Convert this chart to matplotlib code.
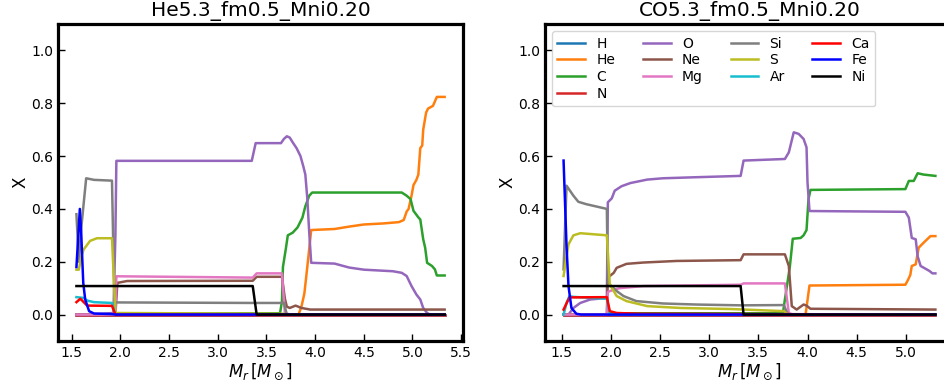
import matplotlib
matplotlib.use('Agg')
import matplotlib.pyplot as plt
import numpy as np

species = ['H', 'He', 'C', 'N', 'O', 'Ne', 'Mg', 'Si', 'S', 'Ar', 'Ca', 'Fe', 'Ni']
colors = ['C0', 'C1', 'C2', 'C3', 'C4', 'C5', 'C6', 'C7', 'C8', 'C9', 'red', 'blue', 'black']
titles = ['He5.3_fm0.5_Mni0.20', 'CO5.3_fm0.5_Mni0.20']

# He star model: (M_r, X) pairs per species
hs_H = [(1.55, 0.0), (5.33, 0.0)]
hs_He = [(1.55, 0.0), (3.83, 0.0), (3.86, 0.03), (3.89, 0.08), (3.92, 0.18), (3.96, 0.32),
         (4.2, 0.324), (4.35, 0.333), (4.5, 0.341), (4.7, 0.345), (4.86, 0.35), (4.91, 0.358),
         (4.94, 0.39), (4.96, 0.40), (4.99, 0.45), (5.01, 0.49), (5.04, 0.51), (5.06, 0.53),
         (5.08, 0.63), (5.10, 0.64), (5.11, 0.70), (5.14, 0.765), (5.16, 0.78), (5.21, 0.79),
         (5.25, 0.824), (5.33, 0.824)]
hs_C = [(1.55, 0.0), (1.95, 0.0), (1.97, 0.003), (3.64, 0.005), (3.66, 0.05), (3.67, 0.18),
        (3.70, 0.25), (3.72, 0.30), (3.77, 0.31), (3.82, 0.33), (3.87, 0.367), (3.90, 0.41),
        (3.94, 0.45), (3.97, 0.462), (4.89, 0.462), (4.94, 0.45), (4.98, 0.437), (5.01, 0.393),
        (5.06, 0.368), (5.08, 0.36), (5.11, 0.285), (5.13, 0.253), (5.15, 0.196), (5.20, 0.184),
        (5.23, 0.171), (5.25, 0.148), (5.33, 0.148)]
hs_N = [(1.55, 0.0), (5.33, 0.0)]
hs_O = [(1.55, 0.0), (1.75, 0.002), (1.93, 0.006), (1.95, 0.3), (1.96, 0.582), (3.35, 0.582),
        (3.39, 0.649), (3.65, 0.649), (3.68, 0.665), (3.71, 0.675), (3.74, 0.67), (3.77, 0.652),
        (3.81, 0.63), (3.85, 0.60), (3.88, 0.56), (3.90, 0.53), (3.92, 0.44), (3.94, 0.31),
        (3.96, 0.196), (4.2, 0.193), (4.35, 0.178), (4.5, 0.17), (4.8, 0.164), (4.89, 0.158),
        (4.94, 0.146), (4.99, 0.108), (5.04, 0.076), (5.08, 0.057), (5.11, 0.025), (5.15, 0.006),
        (5.18, 0.0), (5.33, 0.0)]
hs_Ne = [(1.55, 0.0), (1.95, 0.0), (1.97, 0.12), (2.07, 0.127), (3.36, 0.128), (3.40, 0.143),
         (3.66, 0.143), (3.69, 0.06), (3.71, 0.03), (3.74, 0.025), (3.80, 0.034), (3.86, 0.025),
         (3.95, 0.019), (5.33, 0.019)]
hs_Mg = [(1.55, 0.0), (1.95, 0.0), (1.96, 0.145), (3.36, 0.14), (3.40, 0.156), (3.66, 0.156),
         (3.69, 0.005), (3.75, 0.0), (5.33, 0.0)]
hs_Si = [(1.55, 0.38), (1.575, 0.2), (1.60, 0.33), (1.65, 0.516), (1.73, 0.51), (1.915, 0.507),
         (1.94, 0.046), (3.36, 0.044), (3.68, 0.044), (3.71, 0.0), (5.33, 0.0)]
hs_S = [(1.55, 0.17), (1.575, 0.17), (1.60, 0.22), (1.625, 0.247), (1.69, 0.279), (1.76, 0.289),
        (1.915, 0.289), (1.95, 0.006), (3.68, 0.003), (3.71, 0.0), (5.33, 0.0)]
hs_Ar = [(1.55, 0.066), (1.625, 0.063), (1.66, 0.053), (1.73, 0.047), (1.915, 0.044),
         (1.95, 0.0), (5.33, 0.0)]
hs_Ca = [(1.55, 0.047), (1.59, 0.06), (1.625, 0.047), (1.66, 0.034), (1.915, 0.033),
         (1.95, 0.0), (5.33, 0.0)]
hs_Fe = [(1.55, 0.18), (1.585, 0.40), (1.60, 0.30), (1.62, 0.12), (1.64, 0.057), (1.68, 0.013),
         (1.73, 0.004), (1.9, 0.002), (1.96, 0.0), (5.33, 0.0)]
hs_Ni = [(1.55, 0.108), (3.36, 0.108), (3.40, 0.0), (5.33, 0.0)]

# C/O star model
co_H = [(1.52, 0.0), (5.30, 0.0)]
co_He = [(1.52, 0.0), (3.98, 0.0), (4.02, 0.11), (4.995, 0.113), (5.02, 0.13), (5.045, 0.15),
         (5.06, 0.184), (5.10, 0.19), (5.13, 0.253), (5.18, 0.272), (5.25, 0.297), (5.30, 0.297)]
co_C = [(1.52, 0.0), (1.97, 0.0), (2.0, 0.005), (3.75, 0.005), (3.77, 0.057), (3.82, 0.18),
        (3.85, 0.287), (3.93, 0.29), (3.96, 0.30), (3.99, 0.32), (4.01, 0.437), (4.03, 0.472),
        (4.995, 0.475), (5.03, 0.506), (5.08, 0.506), (5.12, 0.535), (5.18, 0.53), (5.30, 0.525)]
co_N = [(1.52, 0.0), (5.30, 0.0)]
co_O = [(1.52, 0.0), (1.57, 0.0), (1.62, 0.025), (1.69, 0.044), (1.79, 0.057), (1.96, 0.063),
        (1.97, 0.425), (2.01, 0.44), (2.04, 0.469), (2.11, 0.486), (2.20, 0.498), (2.37, 0.511),
        (2.53, 0.516), (2.87, 0.52), (3.32, 0.525), (3.35, 0.583), (3.77, 0.589), (3.81, 0.614),
        (3.86, 0.69), (3.91, 0.684), (3.96, 0.665), (3.99, 0.633), (4.0, 0.5), (4.02, 0.392),
        (4.995, 0.389), (5.03, 0.367), (5.06, 0.29), (5.10, 0.285), (5.12, 0.22), (5.15, 0.184),
        (5.24, 0.165), (5.27, 0.156), (5.30, 0.156)]
co_Ne = [(1.52, 0.0), (1.96, 0.0), (1.97, 0.139), (1.99, 0.146), (2.03, 0.158), (2.06, 0.177),
         (2.16, 0.192), (2.33, 0.197), (2.67, 0.203), (3.32, 0.206), (3.35, 0.228), (3.77, 0.228),
         (3.81, 0.184), (3.84, 0.032), (3.89, 0.019), (3.96, 0.038), (3.99, 0.034), (4.03, 0.022),
         (5.30, 0.019)]
co_Mg = [(1.52, 0.0), (1.96, 0.0), (1.97, 0.085), (1.99, 0.089), (2.09, 0.10), (2.33, 0.108),
         (3.32, 0.113), (3.35, 0.118), (3.77, 0.118), (3.81, 0.006), (3.85, 0.0), (5.30, 0.0)]
co_Si = [(1.52, 0.171), (1.55, 0.488), (1.62, 0.45), (1.67, 0.427), (1.75, 0.418), (1.96, 0.40),
         (1.97, 0.12), (2.06, 0.089), (2.13, 0.07), (2.26, 0.051), (2.53, 0.042), (2.87, 0.038),
         (3.32, 0.035), (3.76, 0.036), (3.80, 0.0), (5.30, 0.0)]
co_S = [(1.52, 0.146), (1.57, 0.266), (1.62, 0.30), (1.69, 0.308), (1.96, 0.30), (1.99, 0.114),
        (2.06, 0.07), (2.16, 0.051), (2.37, 0.032), (2.71, 0.025), (3.22, 0.021), (3.76, 0.013),
        (3.80, 0.0), (5.30, 0.0)]
co_Ar = [(1.52, 0.0), (1.55, 0.044), (1.58, 0.07), (1.62, 0.067), (1.96, 0.06), (1.99, 0.0),
         (5.30, 0.0)]
co_Ca = [(1.52, 0.019), (1.56, 0.05), (1.58, 0.065), (1.96, 0.066), (1.99, 0.013), (2.06, 0.006),
         (2.3, 0.003), (5.30, 0.0)]
co_Fe = [(1.52, 0.583), (1.55, 0.26), (1.57, 0.108), (1.60, 0.025), (1.65, 0.003), (1.70, 0.0),
         (5.30, 0.0)]
co_Ni = [(1.52, 0.108), (3.32, 0.108), (3.35, 0.0), (5.30, 0.0)]

models = [
    [hs_H, hs_He, hs_C, hs_N, hs_O, hs_Ne, hs_Mg, hs_Si, hs_S, hs_Ar, hs_Ca, hs_Fe, hs_Ni],
    [co_H, co_He, co_C, co_N, co_O, co_Ne, co_Mg, co_Si, co_S, co_Ar, co_Ca, co_Fe, co_Ni],
]

fig = plt.figure(figsize=(9.45, 3.91), dpi=100)
ax1 = fig.add_axes([0.0614, 0.1279, 0.4286, 0.8107])
ax2 = fig.add_axes([0.5767, 0.1279, 0.4328, 0.8107])

for ax, prof, title in zip([ax1, ax2], models, titles):
    for name, col, pts in zip(species, colors, prof):
        pts = np.array(pts)
        ax.plot(pts[:, 0], pts[:, 1], color=col, lw=1.8, label=name)
    ax.set_ylim(-0.1, 1.1)
    ax.set_title(title, fontsize=14.5)
    ax.set_xlabel(r'$M_r\,[M_\odot]$', fontsize=12, labelpad=1)
    ax.set_ylabel('X', fontsize=12, labelpad=1)
    ax.tick_params(direction='in', length=5, width=1, labelsize=10)
    for sp in ax.spines.values():
        sp.set_linewidth(2.3)

ax2.legend(loc='upper left', ncol=4, fontsize=10, labelspacing=0.2)

plt.savefig('out.png', dpi=100)
